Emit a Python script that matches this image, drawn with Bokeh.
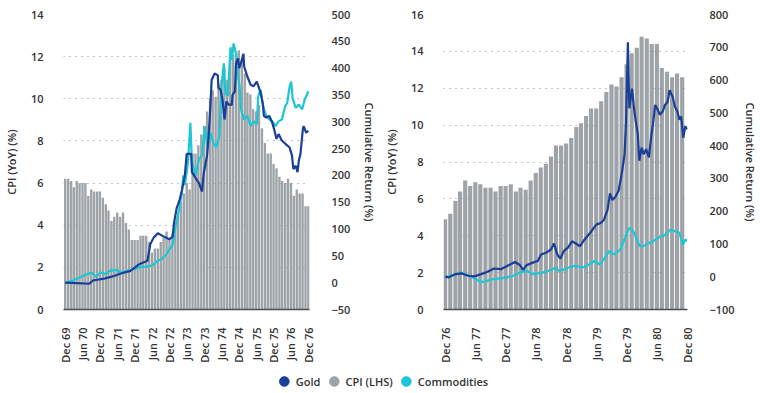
import math
import pandas as pd
from bokeh.plotting import figure
from bokeh.models import (Range1d, LinearAxis, FixedTicker, DatetimeTickFormatter,
                          Legend, LegendItem)
from bokeh.layouts import column, row
from bokeh.embed import file_html
from bokeh.resources import INLINE

# ---------------- data ----------------
# US CPI, year-on-year %, monthly (Dec 69 - Dec 76)
cpi_7076 = [6.2,
            6.2, 6.1, 5.8, 6.1, 6.0, 6.0, 6.0, 5.4, 5.7, 5.6, 5.6, 5.6,
            5.3, 5.0, 4.7, 4.2, 4.4, 4.6, 4.4, 4.6, 4.1, 3.8, 3.3, 3.3,
            3.3, 3.5, 3.5, 3.5, 3.2, 2.7, 2.9, 2.9, 3.2, 3.4, 3.7, 3.4,
            3.6, 3.9, 4.6, 5.1, 5.5, 6.0, 5.7, 7.4, 7.4, 7.8, 8.3, 8.7,
            9.4, 10.0, 10.4, 10.1, 10.7, 10.9, 11.5, 10.9, 11.9, 12.1, 12.2, 12.3,
            11.8, 11.2, 10.3, 10.2, 9.5, 9.4, 9.7, 8.6, 7.9, 7.4, 7.4, 6.9,
            6.7, 6.3, 6.1, 6.0, 6.2, 6.0, 5.4, 5.7, 5.5, 5.5, 4.9, 4.9]

# US CPI, year-on-year %, monthly (Dec 76 - Nov 80)
cpi_7680 = [4.9,
            5.2, 5.9, 6.4, 7.0, 6.7, 6.9, 6.8, 6.6, 6.6, 6.4, 6.7, 6.7,
            6.8, 6.4, 6.6, 6.5, 7.0, 7.4, 7.7, 7.9, 8.3, 8.9, 8.9, 9.0,
            9.3, 9.9, 10.1, 10.5, 10.9, 10.9, 11.3, 11.8, 12.2, 12.1, 12.6, 13.3,
            13.9, 14.2, 14.8, 14.7, 14.4, 14.4, 13.1, 12.9, 12.6, 12.8, 12.6]

# Gold, cumulative return % since Dec 69
gold_7076_dates = ["1969-12-01", "1970-04-07", "1970-08-12", "1970-09-18", "1971-01-26",
                   "1971-05-07", "1971-07-09", "1971-10-18", "1972-01-23", "1972-04-15",
                   "1972-05-12", "1972-06-18", "1972-08-01", "1972-10-12", "1972-12-01",
                   "1973-01-04", "1973-01-18", "1973-02-15", "1973-03-18", "1973-04-12",
                   "1973-05-12", "1973-06-01", "1973-07-18", "1973-07-26", "1973-09-07",
                   "1973-10-09", "1973-11-09", "1973-11-26", "1974-01-01", "1974-01-15",
                   "1974-02-04", "1974-02-18", "1974-03-21", "1974-04-23", "1974-05-01",
                   "1974-05-23", "1974-06-12", "1974-07-04", "1974-07-23", "1974-08-15",
                   "1974-09-18", "1974-09-26", "1974-10-21", "1974-11-01", "1974-11-23",
                   "1974-12-04", "1974-12-23", "1975-01-18", "1975-01-26", "1975-03-01",
                   "1975-04-04", "1975-05-04", "1975-06-07", "1975-07-01", "1975-07-18",
                   "1975-08-12", "1975-08-21", "1975-09-15", "1975-10-18", "1975-11-18",
                   "1975-12-07", "1976-01-01", "1976-01-23", "1976-02-26", "1976-04-09",
                   "1976-05-18", "1976-06-12", "1976-06-26", "1976-07-21", "1976-08-09",
                   "1976-08-23", "1976-09-09", "1976-10-04", "1976-10-12", "1976-11-07",
                   "1976-12-01"]
gold_7076 = [0, -1, -2, 4, 8,
             13, 17, 22, 35, 41,
             71, 84, 92, 85, 81,
             86, 111, 139, 154, 173,
             200, 240, 240, 206, 194,
             185, 170, 203, 237, 268,
             326, 378, 390, 387, 363,
             360, 341, 304, 338, 332,
             332, 350, 357, 409, 418,
             400, 409, 427, 403, 384,
             369, 366, 375, 363, 354,
             332, 311, 308, 311, 298,
             286, 268, 277, 265, 258,
             252, 237, 212, 218, 206,
             228, 240, 286, 292, 280,
             283]

# Commodities, cumulative return % since Dec 69
comm_7076_dates = ["1969-12-01", "1970-03-04", "1970-06-12", "1970-09-04", "1970-10-21",
                   "1970-12-09", "1971-01-26", "1971-03-15", "1971-05-21", "1971-07-09",
                   "1971-09-15", "1971-11-18", "1972-01-23", "1972-03-26", "1972-06-04",
                   "1972-08-01", "1972-09-09", "1972-11-01", "1972-12-01", "1973-01-04",
                   "1973-02-07", "1973-03-09", "1973-04-12", "1973-04-26", "1973-05-12",
                   "1973-06-15", "1973-07-09", "1973-07-26", "1973-09-01", "1973-10-09",
                   "1973-11-09", "1973-12-07", "1974-01-01", "1974-02-04", "1974-03-04",
                   "1974-04-07", "1974-05-09", "1974-06-01", "1974-06-26", "1974-07-12",
                   "1974-08-07", "1974-09-04", "1974-09-18", "1974-10-07", "1974-11-01",
                   "1974-11-23", "1974-12-09", "1974-12-23", "1975-01-26", "1975-03-01",
                   "1975-04-04", "1975-05-04", "1975-06-07", "1975-06-23", "1975-07-18",
                   "1975-08-12", "1975-09-15", "1975-10-18", "1975-11-18", "1975-12-21",
                   "1976-01-23", "1976-02-26", "1976-04-01", "1976-04-23", "1976-05-18",
                   "1976-06-04", "1976-06-18", "1976-07-21", "1976-08-23", "1976-09-26",
                   "1976-10-23", "1976-12-01"]
comm_7076 = [0, 5, 13, 19, 11,
             19, 16, 22, 24, 19,
             22, 25, 29, 30, 32,
             41, 44, 53, 62, 71,
             108, 133, 170, 200, 182,
             225, 298, 225, 200, 231,
             237, 292, 255, 280, 262,
             252, 274, 366, 409, 354,
             348, 439, 415, 446, 427,
             384, 366, 323, 304, 311,
             292, 301, 295, 348, 360,
             329, 311, 304, 301, 292,
             301, 304, 329, 335, 366,
             375, 344, 326, 332, 323,
             341, 357]

# Gold, cumulative return % since Dec 76
gold_7680_dates = ["1976-12-01", "1976-12-22", "1977-02-02", "1977-03-10", "1977-04-19",
                   "1977-05-26", "1977-07-06", "1977-08-14", "1977-09-22", "1977-11-02",
                   "1977-12-10", "1978-01-27", "1978-02-26", "1978-03-16", "1978-04-06",
                   "1978-05-14", "1978-06-13", "1978-07-03", "1978-08-02", "1978-09-01",
                   "1978-09-19", "1978-10-09", "1978-10-27", "1978-11-17", "1978-12-12",
                   "1979-01-06", "1979-01-24", "1979-02-23", "1979-03-22", "1979-05-02",
                   "1979-06-01", "1979-06-28", "1979-07-18", "1979-08-08", "1979-08-23",
                   "1979-09-07", "1979-09-25", "1979-10-15", "1979-11-05", "1979-11-19",
                   "1979-11-28", "1979-12-09", "1979-12-18", "1980-01-03", "1980-01-15",
                   "1980-01-26", "1980-02-07", "1980-02-16", "1980-03-01", "1980-03-13",
                   "1980-03-28", "1980-04-14", "1980-04-27", "1980-05-08", "1980-05-22",
                   "1980-06-07", "1980-06-19", "1980-07-06", "1980-07-20", "1980-08-05",
                   "1980-08-17", "1980-09-04", "1980-09-18", "1980-10-03", "1980-10-15",
                   "1980-10-26", "1980-11-07", "1980-11-20", "1980-12-01"]
gold_7680 = [0, -2, 8, 10, 3,
             1, 8, 15, 25, 23,
             33, 45, 35, 21, 35,
             43, 48, 68, 73, 83,
             101, 68, 55, 78, 89,
             108, 103, 93, 113, 138,
             159, 164, 174, 204, 254,
             234, 244, 264, 324, 374,
             474, 715, 514, 574, 514,
             474, 434, 354, 394, 374,
             389, 364, 424, 464, 524,
             509, 494, 504, 524, 534,
             569, 549, 519, 504, 479,
             489, 424, 459, 450]

# Commodities, cumulative return % since Dec 76
comm_7680_dates = ["1976-12-01", "1977-01-13", "1977-03-10", "1977-04-19", "1977-05-26",
                   "1977-07-06", "1977-08-14", "1977-09-22", "1977-11-02", "1977-12-10",
                   "1978-01-18", "1978-02-26", "1978-04-06", "1978-05-14", "1978-06-22",
                   "1978-08-02", "1978-09-10", "1978-09-28", "1978-10-18", "1978-11-26",
                   "1978-12-16", "1979-01-24", "1979-03-13", "1979-04-21", "1979-05-20",
                   "1979-06-19", "1979-07-18", "1979-08-17", "1979-09-16", "1979-10-24",
                   "1979-11-14", "1979-12-04", "1979-12-18", "1980-01-03", "1980-01-15",
                   "1980-02-02", "1980-02-20", "1980-03-10", "1980-04-09", "1980-05-08",
                   "1980-06-07", "1980-07-06", "1980-08-05", "1980-08-23", "1980-09-22",
                   "1980-10-15", "1980-11-05", "1980-11-20", "1980-12-01"]
comm_7680 = [0, 4, 13, 4, -5,
             -17, -12, -7, -5, -2,
             3, 13, 18, 8, 11,
             15, 23, 28, 18, 23,
             28, 33, 28, 38, 48,
             38, 53, 78, 68, 83,
             108, 134, 149, 144, 134,
             113, 93, 93, 101, 108,
             119, 123, 134, 144, 138,
             134, 98, 113, 110]

# ---------------- styling ----------------
GOLD = "#1b3f98"
COMM = "#1dc6d5"
CPI = "#9ea3a7"
TEXT = "#333333"
FONT = "Open Sans SemiBold"
DAY_MS = 86400000.0


def ms(ts):
    return pd.Timestamp(ts).timestamp() * 1000.0


def panel(cpi, cpi_start, gold_d, gold_v, comm_d, comm_v, first_tick, last_tick,
          pad_left_days, pad_right_days, y_max, r_lo, r_hi, r_step,
          border_left, border_right, title_standoff_right):
    months = pd.date_range(cpi_start, periods=len(cpi), freq="MS")
    x0 = ms(first_tick) - pad_left_days * DAY_MS
    x1 = ms(last_tick) + pad_right_days * DAY_MS

    p = figure(width=380, height=365, x_axis_type="datetime",
               x_range=Range1d(x0, x1), y_range=Range1d(0, y_max),
               output_backend="svg", toolbar_location=None,
               min_border_left=border_left, min_border_right=border_right,
               min_border_top=14, min_border_bottom=52)
    p.outline_line_color = None
    p.background_fill_color = "white"
    p.border_fill_color = "white"
    p.extra_y_ranges = {"ret": Range1d(r_lo, r_hi)}

    p.vbar(x=months, top=cpi, width=25 * DAY_MS, fill_color=CPI, line_color=None)
    p.line(pd.to_datetime(comm_d), comm_v, color=COMM, line_width=2.2, y_range_name="ret")
    p.line(pd.to_datetime(gold_d), gold_v, color=GOLD, line_width=2.2, y_range_name="ret")

    # left axis: CPI
    ya = p.yaxis[0]
    ya.ticker = FixedTicker(ticks=list(range(0, y_max + 1, 2)))
    ya.axis_label = "CPI (YoY) (%)"
    ya.axis_label_standoff = 9

    # right axis: cumulative return
    ra = LinearAxis(y_range_name="ret",
                    ticker=FixedTicker(ticks=list(range(r_lo, r_hi + 1, r_step))),
                    axis_label="Cumulative Return (%)")
    ra.axis_label_standoff = title_standoff_right
    p.add_layout(ra, "right")

    for ax in (ya, ra):
        ax.axis_line_color = None
        ax.major_tick_line_color = None
        ax.minor_tick_line_color = None
        ax.major_label_text_font = FONT
        ax.major_label_text_font_size = "11px"
        ax.major_label_text_color = TEXT
        ax.axis_label_text_font = FONT
        ax.axis_label_text_font_size = "11px"
        ax.axis_label_text_font_style = "normal"
        ax.axis_label_text_color = TEXT
    ya.major_label_standoff = 14
    ra.major_label_standoff = 16

    # bottom axis: half-yearly dates
    xa = p.xaxis[0]
    ticks = pd.date_range(first_tick, last_tick, freq="6MS")
    xa.ticker = FixedTicker(ticks=[ms(t) for t in ticks])
    fmt = "%b %y"
    xa.formatter = DatetimeTickFormatter(milliseconds=fmt, seconds=fmt, minsec=fmt,
                                         minutes=fmt, hourmin=fmt, hours=fmt, days=fmt,
                                         months=fmt, years=fmt)
    xa.major_label_orientation = math.pi / 2
    xa.major_label_text_font = FONT
    xa.major_label_text_font_size = "11px"
    xa.major_label_text_color = TEXT
    xa.major_label_standoff = 12
    xa.major_tick_line_color = None
    xa.minor_tick_line_color = None
    xa.axis_line_color = "#4d4d4d"
    xa.axis_line_width = 1.5

    p.xgrid.visible = False
    p.ygrid.ticker = FixedTicker(ticks=list(range(2, y_max + 1, 2)))
    p.ygrid.grid_line_color = "#8c8c8c"
    p.ygrid.grid_line_dash = "1 5"
    p.ygrid.grid_line_width = 1
    return p


left = panel(cpi_7076, "1969-12-01", gold_7076_dates, gold_7076, comm_7076_dates, comm_7076,
             "1969-12-01", "1976-12-01", 18, 12, 14, -50, 500, 50, 55, 64, 9)
right = panel(cpi_7680, "1976-12-01", gold_7680_dates, gold_7680, comm_7680_dates, comm_7680,
              "1976-12-01", "1980-12-01", 10, 2, 16, -100, 800, 100, 62, 69, 5)

# ---------------- legend strip ----------------
lg = figure(width=760, height=28, x_range=Range1d(0, 1), y_range=Range1d(0, 1),
            output_backend="svg", toolbar_location=None,
            min_border_left=0, min_border_right=0, min_border_bottom=0, min_border_top=4)
lg.axis.visible = False
lg.grid.visible = False
lg.outline_line_color = None
# one off-canvas point each, so the legend has a marker to show
r_gold = lg.scatter(x=[5], y=[5], size=11, fill_color=GOLD, line_color=GOLD)
r_cpi = lg.scatter(x=[5], y=[5], size=11, fill_color=CPI, line_color=CPI)
r_comm = lg.scatter(x=[5], y=[5], size=11, fill_color=COMM, line_color=COMM)
legend = Legend(items=[LegendItem(label="Gold", renderers=[r_gold]),
                       LegendItem(label="CPI (LHS)", renderers=[r_cpi]),
                       LegendItem(label="Commodities", renderers=[r_comm])],
                orientation="horizontal", location="center",
                border_line_color=None, background_fill_alpha=0,
                label_text_font=FONT, label_text_font_size="11px",
                label_text_color=TEXT, glyph_width=24, glyph_height=24,
                label_standoff=-4, spacing=1, padding=0, margin=0)
lg.add_layout(legend, "center")

layout = column(row(left, right), lg)
open("out.html", "w").write(file_html(layout, INLINE))
